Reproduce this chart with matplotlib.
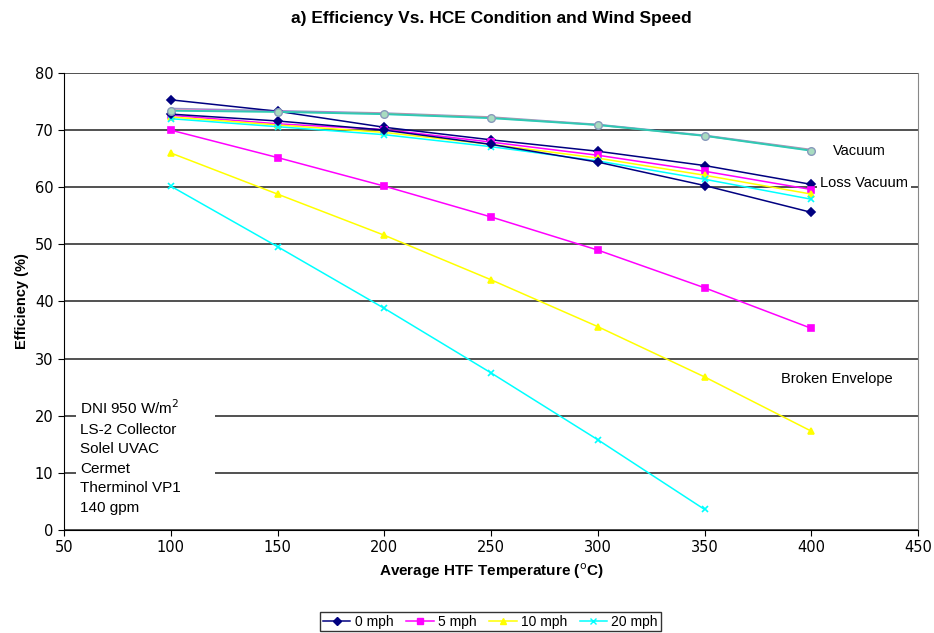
import numpy as np
import matplotlib.pyplot as plt
from matplotlib.patches import Rectangle

# temperatures (C)
temps = [100, 150, 200, 250, 300, 350, 400]
speeds = ["0 mph", "5 mph", "10 mph", "20 mph"]
colors = ["#000080", "#ff00ff", "#ffff00", "#00ffff"]
markers = ["D", "s", "^", "x"]

# Vacuum (curves nearly identical for all wind speeds)
vac_0 = [73.8, 73.4, 73.0, 72.3, 71.0, 69.1, 66.6]
vac_5 = [73.6, 73.3, 72.9, 72.2, 70.9, 69.0, 66.5]
vac_10 = [73.5, 73.2, 72.9, 72.2, 70.9, 69.0, 66.5]
vac_20 = [73.4, 73.2, 72.8, 72.1, 70.9, 69.0, 66.4]

# Loss of vacuum
loss_0 = [75.3, 73.3, 70.5, 68.3, 66.3, 63.8, 60.5]
loss_5 = [72.6, 71.1, 70.1, 67.9, 65.6, 62.8, 59.6]
loss_10 = [72.3, 70.9, 69.6, 67.5, 65.1, 62.1, 58.8]
loss_20 = [72.0, 70.6, 69.2, 67.1, 64.6, 61.4, 57.9]

# Broken envelope
brk_0 = [72.8, 71.6, 70.0, 67.5, 64.4, 60.3, 55.6]
brk_5 = [70.0, 65.2, 60.2, 54.8, 49.0, 42.4, 35.3]
brk_10 = [66.0, 58.8, 51.6, 43.8, 35.6, 26.8, 17.3]
brk_20 = [60.2, 49.6, 38.8, 27.5, 15.8, 3.6]

fig = plt.figure(figsize=(9.34, 6.33), dpi=100)
ax = fig.add_axes([0.0685, 0.1627, 0.9145, 0.722])

groups = [[loss_0, loss_5, loss_10, loss_20],
          [brk_0, brk_5, brk_10, brk_20]]
for g in groups:
    for y, c, m in zip(g, colors, markers):
        ax.plot(temps[:len(y)], y, color=c, marker=m, ms=4.5, lw=1.1,
                mew=1.2, zorder=3)

# vacuum curves sit on top of each other
for y, c in zip([vac_0, vac_5, vac_10, vac_20], colors):
    ax.plot(temps, y, color=c, lw=1.1, alpha=0.4, zorder=3)
ax.plot(temps, vac_20, color="#30c8b4", lw=1.4, marker="o", ms=5.5,
        mfc="#a8dcc0", mec="#8899bb", zorder=4)

# legend handles
for c, m, s in zip(colors, markers, speeds):
    ax.plot([], [], color=c, marker=m, ms=4.5, lw=1.1, label=s)

ax.set_xlim(50, 450)
ax.set_ylim(0, 80)
ax.set_xticks(np.arange(50, 451, 50))
ax.set_yticks(np.arange(0, 81, 10))
ax.yaxis.grid(True, color="#333333", lw=1.2)
ax.set_axisbelow(True)
ax.spines["top"].set_visible(False)
ax.spines["right"].set_color("#888888")
ax.tick_params(labelsize=10.5, length=4)

ax.set_title("a) Efficiency Vs. HCE Condition and Wind Speed",
             fontsize=12.5, fontweight="bold", pad=36, family="Liberation Sans")
ax.set_xlabel("Average HTF Temperature ($^{\\mathrm{o}}$C)", fontsize=11,
              fontweight="bold", family="Liberation Sans")
ax.set_ylabel("Efficiency (%)", fontsize=10.5, fontweight="bold",
              family="Liberation Sans")

box = dict(facecolor="white", edgecolor="none", pad=2)
ax.text(410, 66.3, "Vacuum", fontsize=10.5, va="center", bbox=box,
        family="Liberation Sans", zorder=5)
ax.text(404, 60.8, "Loss Vacuum", fontsize=10.5, va="center", bbox=box,
        family="Liberation Sans", zorder=5, clip_on=False)
ax.text(386, 26.4, "Broken Envelope", fontsize=10.5, va="center",
        family="Liberation Sans", zorder=5)

# white panel behind the conditions note
ax.add_patch(Rectangle((55.5, 3.0), 65, 20.5, facecolor="white",
                       edgecolor="none", zorder=2))
ax.text(57.5, 23.0, "DNI 950 W/m$^{2}$\nLS-2 Collector\nSolel UVAC\nCermet\n"
        "Therminol VP1\n140 gpm", fontsize=11, va="top", linespacing=1.5,
        family="Liberation Sans", zorder=5)

leg = fig.legend(loc="center", bbox_to_anchor=(0.525, 0.018), ncol=4,
                 frameon=True, fancybox=False, edgecolor="black",
                 handlelength=2.0, columnspacing=0.9,
                 handletextpad=0.3, borderpad=0.2,
                 prop={"family": "Liberation Sans", "size": 10})

fig.savefig("out.png", dpi=100)
